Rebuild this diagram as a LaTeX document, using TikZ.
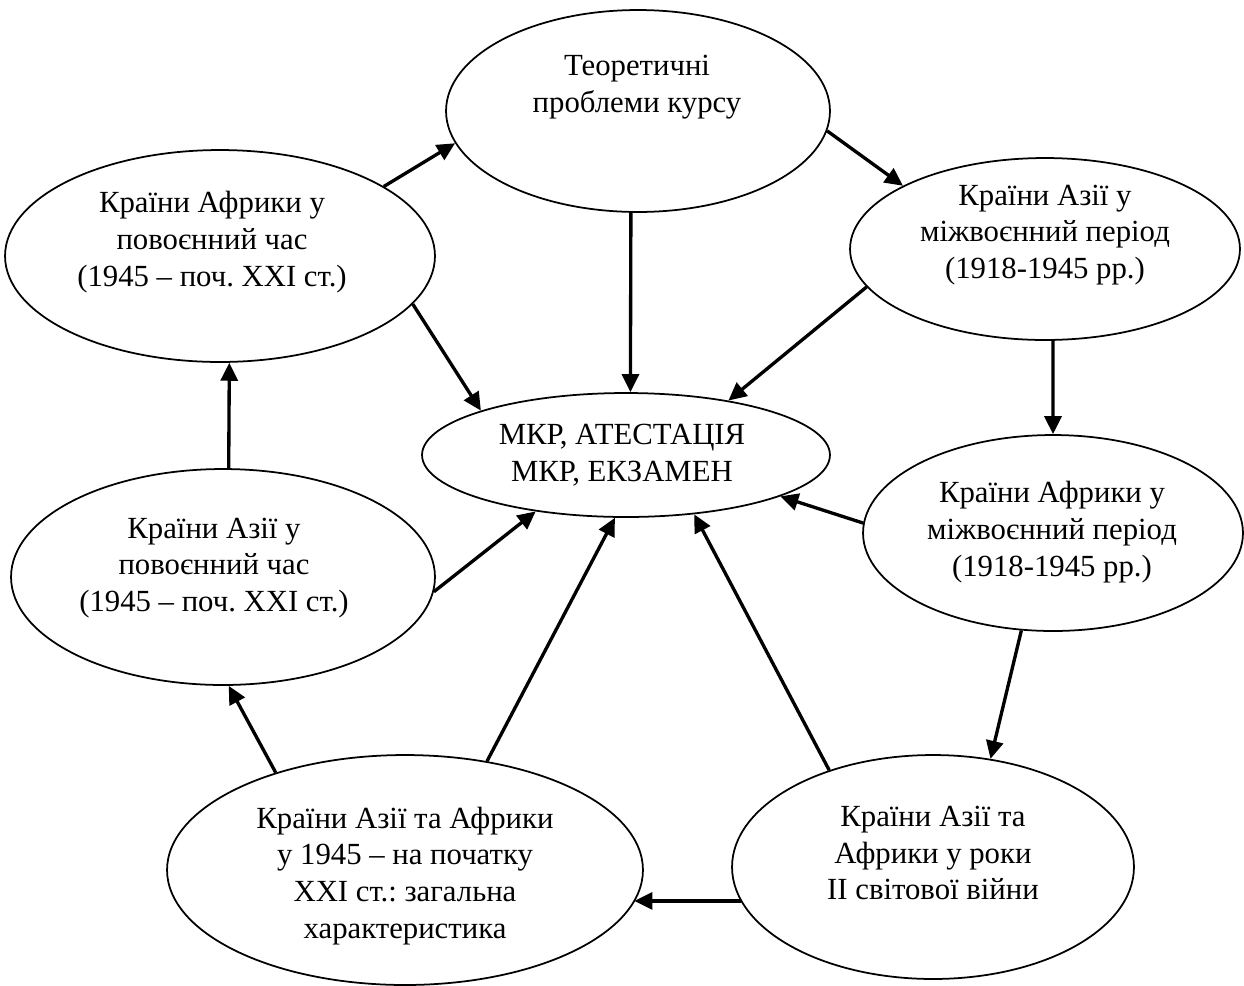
\documentclass[tikz,border=0pt]{standalone}
\usepackage{fontspec}
\setmainfont{Liberation Serif}
\usetikzlibrary{arrows.meta,shapes.geometric}
\frenchspacing
\begin{document}
\begin{tikzpicture}[x=0.02cm,y=-0.02cm,
  ell/.style={ellipse, draw, line width=1pt, inner sep=0pt},
  txt/.style={align=center, font=\fontsize{17.5}{21}\selectfont, inner sep=0pt},
  arr/.style={-{Triangle[length=0.36cm,width=0.34cm]}, line width=1.9pt}]
\useasboundingbox (0,0) rectangle (1244,985);
% ellipses
\node[ell, minimum width=7.68cm, minimum height=4.04cm] (A) at (638,111) {};
\node[ell, minimum width=8.6cm,  minimum height=4.24cm] (B) at (220,256) {};
\node[ell, minimum width=7.8cm,  minimum height=3.64cm] (C) at (1045,249) {};
\node[ell, minimum width=8.16cm, minimum height=2.48cm] (D) at (626,455) {};
\node[ell, minimum width=7.6cm,  minimum height=3.92cm] (E) at (1053,533) {};
\node[ell, minimum width=8.48cm, minimum height=4.32cm] (F) at (223,577) {};
\node[ell, minimum width=9.52cm, minimum height=4.6cm]  (G) at (405,870) {};
\node[ell, minimum width=8.04cm, minimum height=4.48cm] (H) at (933,867) {};
% texts
\node[txt] (tA) at (637,87)  {Теоретичні\\проблеми курсу};
\node[txt] (tB) at (212,242) {Країни Африки у\\повоєнний час\\(1945 – поч. XXI ст.)};
\node[txt] (tC) at (1045,235) {Країни Азії у\\міжвоєнний період\\(1918-1945 рр.)};
\node[txt] (tD) at (622,455) {МКР, АТЕСТАЦІЯ\\МКР, ЕКЗАМЕН};
\node[txt] (tE) at (1052,532) {Країни Африки у\\міжвоєнний період\\(1918-1945 рр.)};
\node[txt] (tF) at (214,568) {Країни Азії у\\повоєнний час\\(1945 – поч. XXI ст.)};
\node[txt] (tG) at (405,876) {Країни Азії та Африки\\у 1945 – на початку\\XXI ст.: загальна\\характеристика};
\node[txt] (tH) at (933,853) {Країни Азії та\\Африки у роки\\II світової війни};
% connectors
\draw[arr] (B.23.5) -- (A.190);
\draw[arr] (A.-6.2) -- (C.156.3);
\draw[arr] (A.-94.5) -- (D.86.3);
\draw[arr] (C.192.7) -- (D.28.6);
\draw[arr] (B.-14.8) -- (D.163);
\draw[arr] (C.-85) -- (E.90);
\draw[arr] (E.177.6) -- (D.-15.1);
\draw[arr] (E.252.1) -- (H.62);
\draw[arr] (H.137.6) -- (D.-41.3);
\draw[arr] (H.190.3) -- (G.-8.2 |- H.190.3);
\draw[arr] (G.53) -- (D.260.4);
\draw[arr] (G.143.6) -- (F.-87.4);
\draw[arr] (F.87.3) -- (B.-85.7);
\draw[arr] (F.-4.9) -- (D.212.7);
\end{tikzpicture}
\end{document}
